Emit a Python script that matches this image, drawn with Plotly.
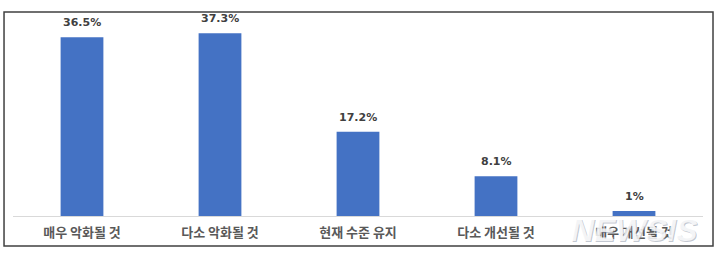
import plotly.graph_objects as go

categories = ["매우 악화될 것", "다소 악화될 것", "현재 수준 유지", "다소 개선될 것", "매우 개선될 것"]
values = [36.5, 37.3, 17.2, 8.1, 1.0]
value_labels = ["36.5%", "37.3%", "17.2%", "8.1%", "1%"]

fig = go.Figure()
fig.add_trace(go.Bar(
    x=categories, y=values,
    marker=dict(color="#4472C4", line=dict(width=0)),
    width=0.31,
    hoverinfo="skip",
))

for c, v, t in zip(categories, values, value_labels):
    fig.add_annotation(
        x=c, y=v, text=f"<b>{t}</b>", showarrow=False,
        yanchor="bottom", yshift=6,
        font=dict(family="DejaVu Sans", size=11, color="#404040"),
    )

# watermark
for dx, dy, col in [(1.5, -1.5, "rgba(120,130,150,0.45)"), (0, 0, "rgba(255,255,255,0.82)")]:
    fig.add_annotation(
        xref="paper", yref="paper", x=0.9, y=-0.0714, xshift=dx, yshift=dy,
        xanchor="center", yanchor="middle",
        text="<b><i>NEWSIS</i></b>", showarrow=False,
        font=dict(family="Liberation Sans", size=32, color=col),
    )

fig.add_shape(
    type="rect", xref="paper", yref="paper",
    x0=-0.013, x1=1.0145, y0=-0.153, y1=1.0408,
    line=dict(color="#404040", width=1.5), fillcolor="rgba(0,0,0,0)", layer="below",
)

fig.update_layout(
    width=720, height=260,
    margin=dict(l=13, r=17, t=20, b=44),
    paper_bgcolor="white", plot_bgcolor="white",
    showlegend=False,
    bargap=0.69,
    xaxis=dict(
        showline=True, linecolor="#d9d9d9", linewidth=1,
        showgrid=False, ticks="",
        tickfont=dict(family="Noto Sans CJK KR", size=13, color="#595959", weight=600),
        ticklabelstandoff=4,
    ),
    yaxis=dict(range=[0, 40], visible=False, showgrid=False, zeroline=False),
)

fig.write_html("out.html")
